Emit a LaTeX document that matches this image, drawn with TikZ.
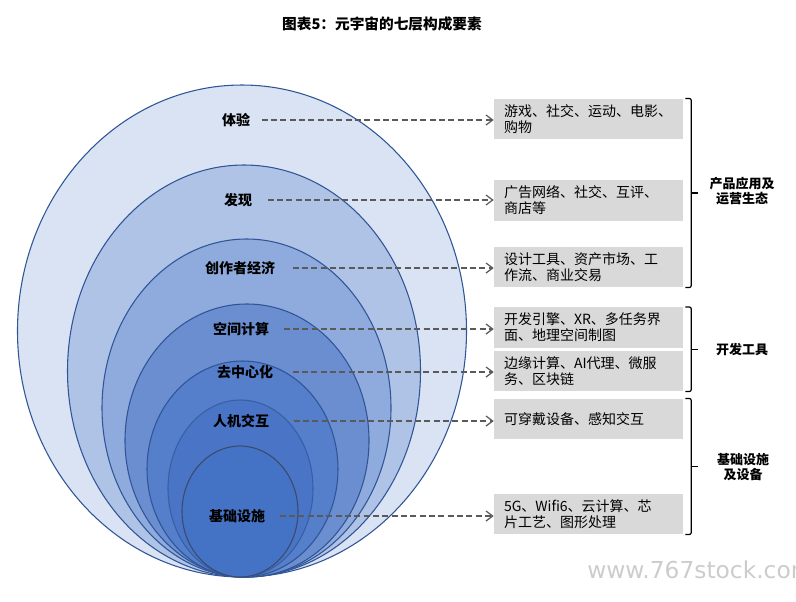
\documentclass[tikz,border=0pt]{standalone}
\usepackage{fontspec}
\setmainfont{Noto Sans CJK SC}
\newfontfamily\wmfont{DejaVu Sans}
\usetikzlibrary{arrows.meta,calc,positioning}
\definecolor{layerA}{HTML}{DAE3F3}
\definecolor{layerB}{HTML}{AFC3E6}
\definecolor{layerC}{HTML}{8FAADC}
\definecolor{layerD}{HTML}{6A8ED0}
\definecolor{layerE}{HTML}{557ECB}
\definecolor{layerF}{HTML}{4A75C6}
\definecolor{layerG}{HTML}{4472C4}
\definecolor{edgeblue}{HTML}{2F5597}
\definecolor{edgedark}{HTML}{3B4A6B}
\definecolor{boxgray}{HTML}{D9D9D9}
\definecolor{linkgray}{HTML}{5A5A5A}
\definecolor{wmgray}{HTML}{CCCCCC}
\begin{document}
\begin{tikzpicture}[x=0.75pt,y=-0.75pt,line join=round,
    layer/.style={line width=0.8pt},
    lbl/.style={font=\bfseries\fontsize{10.5}{12}\selectfont,inner sep=1pt},
    item/.style={fill=boxgray,text width=126.75pt,inner xsep=7.5pt,minimum height=30.4pt,align=left,font=\fontsize{10.5}{12}\selectfont},
    grp/.style={font=\bfseries\fontsize{9.75}{11}\selectfont,align=center},
    link/.style={draw=linkgray,line width=0.95pt,dash pattern=on 4.5pt off 2.5pt,-{Straight Barb[length=5pt,width=7.5pt]}},
    brace/.style={draw=black,line width=0.9pt,rounded corners=1.5pt}]
    \def\base{577}
    \useasboundingbox (0,0) rectangle (796,601);
    \node[font=\bfseries\fontsize{11}{13}\selectfont] (title) at (382,24) {图表5：元宇宙的七层构成要素};
    % nested layers, all touching at the bottom
    \foreach \cx/\rx/\ry/\c/\e in {242/224.5/246/layerA/edgeblue, 244/176.5/206/layerB/edgeblue,
        246.5/144.5/169/layerC/edgeblue, 247/122/136.5/layerD/edgeblue, 242.5/95.5/108/layerE/edgeblue,
        240.5/72.5/88.5/layerF/edgeblue!70!layerF, 240/58/65.5/layerG/edgedark}
    \draw[layer,draw=\e,fill=\c] (\cx,\base-\ry) ellipse [x radius=\rx, y radius=\ry];
    \foreach \n/\x/\y/\t in {1/236/120/体验, 2/238/200/发现, 3/240/268/创作者经济, 4/241/329/空间计算,
        5/245/372/去中心化, 6/241/421/人机交互, 7/237/516/基础设施}
    \node[lbl] (l\n) at (\x,\y) {\t};
    \foreach \n/\y/\t in {1/119/{游戏、社交、运动、电影、\\购物}, 2/200.5/{广告网络、社交、互评、\\商店等},
        3/267/{设计工具、资产市场、工\\作流、商业交易}, 4/327.5/{开发引擎、XR、多任务界\\面、地理空间制图},
        5/371/{边缘计算、AI代理、微服\\务、区块链}, 6/419/{可穿戴设备、感知交互},
        7/514/{5G、Wifi6、云计算、芯\\片工艺、图形处理}}
    \node[item] (b\n) at (588.5,\y) {\t};
    \foreach \n/\g in {1/10,2/14,3/16,4/13,5/18,6/23,7/13}
    \draw[link] ([xshift=\g*0.75pt]l\n.east) -- (l\n.east -| b\n.west);
    % brackets on the right
    \foreach \s/\f in {1/3,4/5,6/7}{
        \draw[brace] ([xshift=1.5pt]b\s.north east) -| ([xshift=6pt]b\f.south east) -- ([xshift=1.5pt]b\f.south east);
        \draw[brace] ($([xshift=6pt]b\s.north east)!.5!([xshift=6pt]b\f.south east)$) -- ++(5.25pt,0);
    }
    \node[grp] (g1) at (742,191) {产品应用及\\运营生态};
    \node[grp] (g2) at (742,350) {开发工具};
    \node[grp] (g3) at (743,467) {基础设施\\及设备};
    \node[anchor=base west,inner sep=0pt,text=wmgray,font=\wmfont\fontsize{17.5}{19}\selectfont] (wm) at (587,578) {www.767stock.com};
\end{tikzpicture}
\end{document}
